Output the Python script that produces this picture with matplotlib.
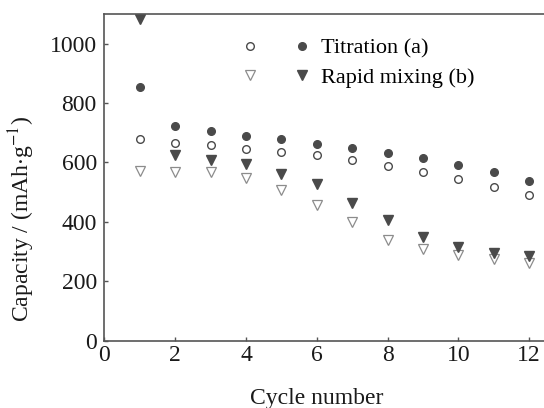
import matplotlib.pyplot as plt
from matplotlib.legend_handler import HandlerTuple
from matplotlib.lines import Line2D

cycles = [1, 2, 3, 4, 5, 6, 7, 8, 9, 10, 11, 12]
# titration (a): charge (open) / discharge (filled)
titr_open = [679, 666, 659, 646, 636, 624, 607, 589, 568, 545, 516, 490]
titr_fill = [855, 724, 705, 689, 679, 663, 650, 632, 614, 590, 567, 539]
# rapid mixing (b)
rapid_open = [570, 567, 568, 548, 507, 458, 401, 339, 309, 289, 276, 261]
rapid_fill = [1082, 625, 607, 595, 561, 528, 463, 406, 350, 316, 295, 285]

plt.rcParams['font.family'] = ['Liberation Serif', 'DejaVu Serif']
plt.rcParams['mathtext.fontset'] = 'stix'

fig = plt.figure(figsize=(5.44, 4.08), dpi=100)
ax = fig.add_axes([0.192, 0.165, 0.808, 0.801])

dark = '#4a4a4a'
light = '#8c8c8c'
ms = 5.5
o1, = ax.plot(cycles, titr_open, 'o', ls='none', ms=ms, mfc='white', mec=dark, mew=1.0)
f1, = ax.plot(cycles, titr_fill, 'o', ls='none', ms=ms, mfc=dark, mec=dark)
o2, = ax.plot(cycles, rapid_open, 'v', ls='none', ms=ms + 1, mfc='white', mec=light, mew=0.9)
f2, = ax.plot(cycles, rapid_fill, 'v', ls='none', ms=ms + 1, mfc=dark, mec=dark)

ax.set_xlim(0, 12.42)
ax.set_ylim(0, 1100)
ax.set_xticks(range(0, 13, 2))
ax.set_yticks(range(0, 1001, 200))
ax.tick_params(direction='in', length=3, width=1, color='#555555', labelsize=17, labelcolor='#1a1a1a')
ax.tick_params(axis='y', pad=5.5)
ax.tick_params(axis='x', pad=3)
for s in ['left', 'bottom', 'top']:
    ax.spines[s].set_color('#555555')
    ax.spines[s].set_linewidth(1.2)
ax.spines['right'].set_visible(False)

ax.set_xlabel('Cycle number', fontsize=17, color='#1a1a1a')
ax.set_ylabel(r'Capacity / (mAh$\cdot$g$^{-1}$)', fontsize=17, color='#1a1a1a')
ax.xaxis.set_label_coords(0.483, -0.145)
ax.yaxis.set_label_coords(-0.154, 0.3725)

leg = ax.legend([(o1, f1), (o2, f2)], ['Titration (a)', 'Rapid mixing (b)'],
                handler_map={tuple: HandlerTuple(ndivide=None, pad=1.9)},
                handlelength=2.8, handletextpad=0.6, labelspacing=0.4,
                borderpad=0, frameon=False, fontsize=16,
                loc='upper left', bbox_to_anchor=(234 / 544, 1 - 27 / 408),
                bbox_transform=fig.transFigure)

fig.savefig('out.png', dpi=100)
